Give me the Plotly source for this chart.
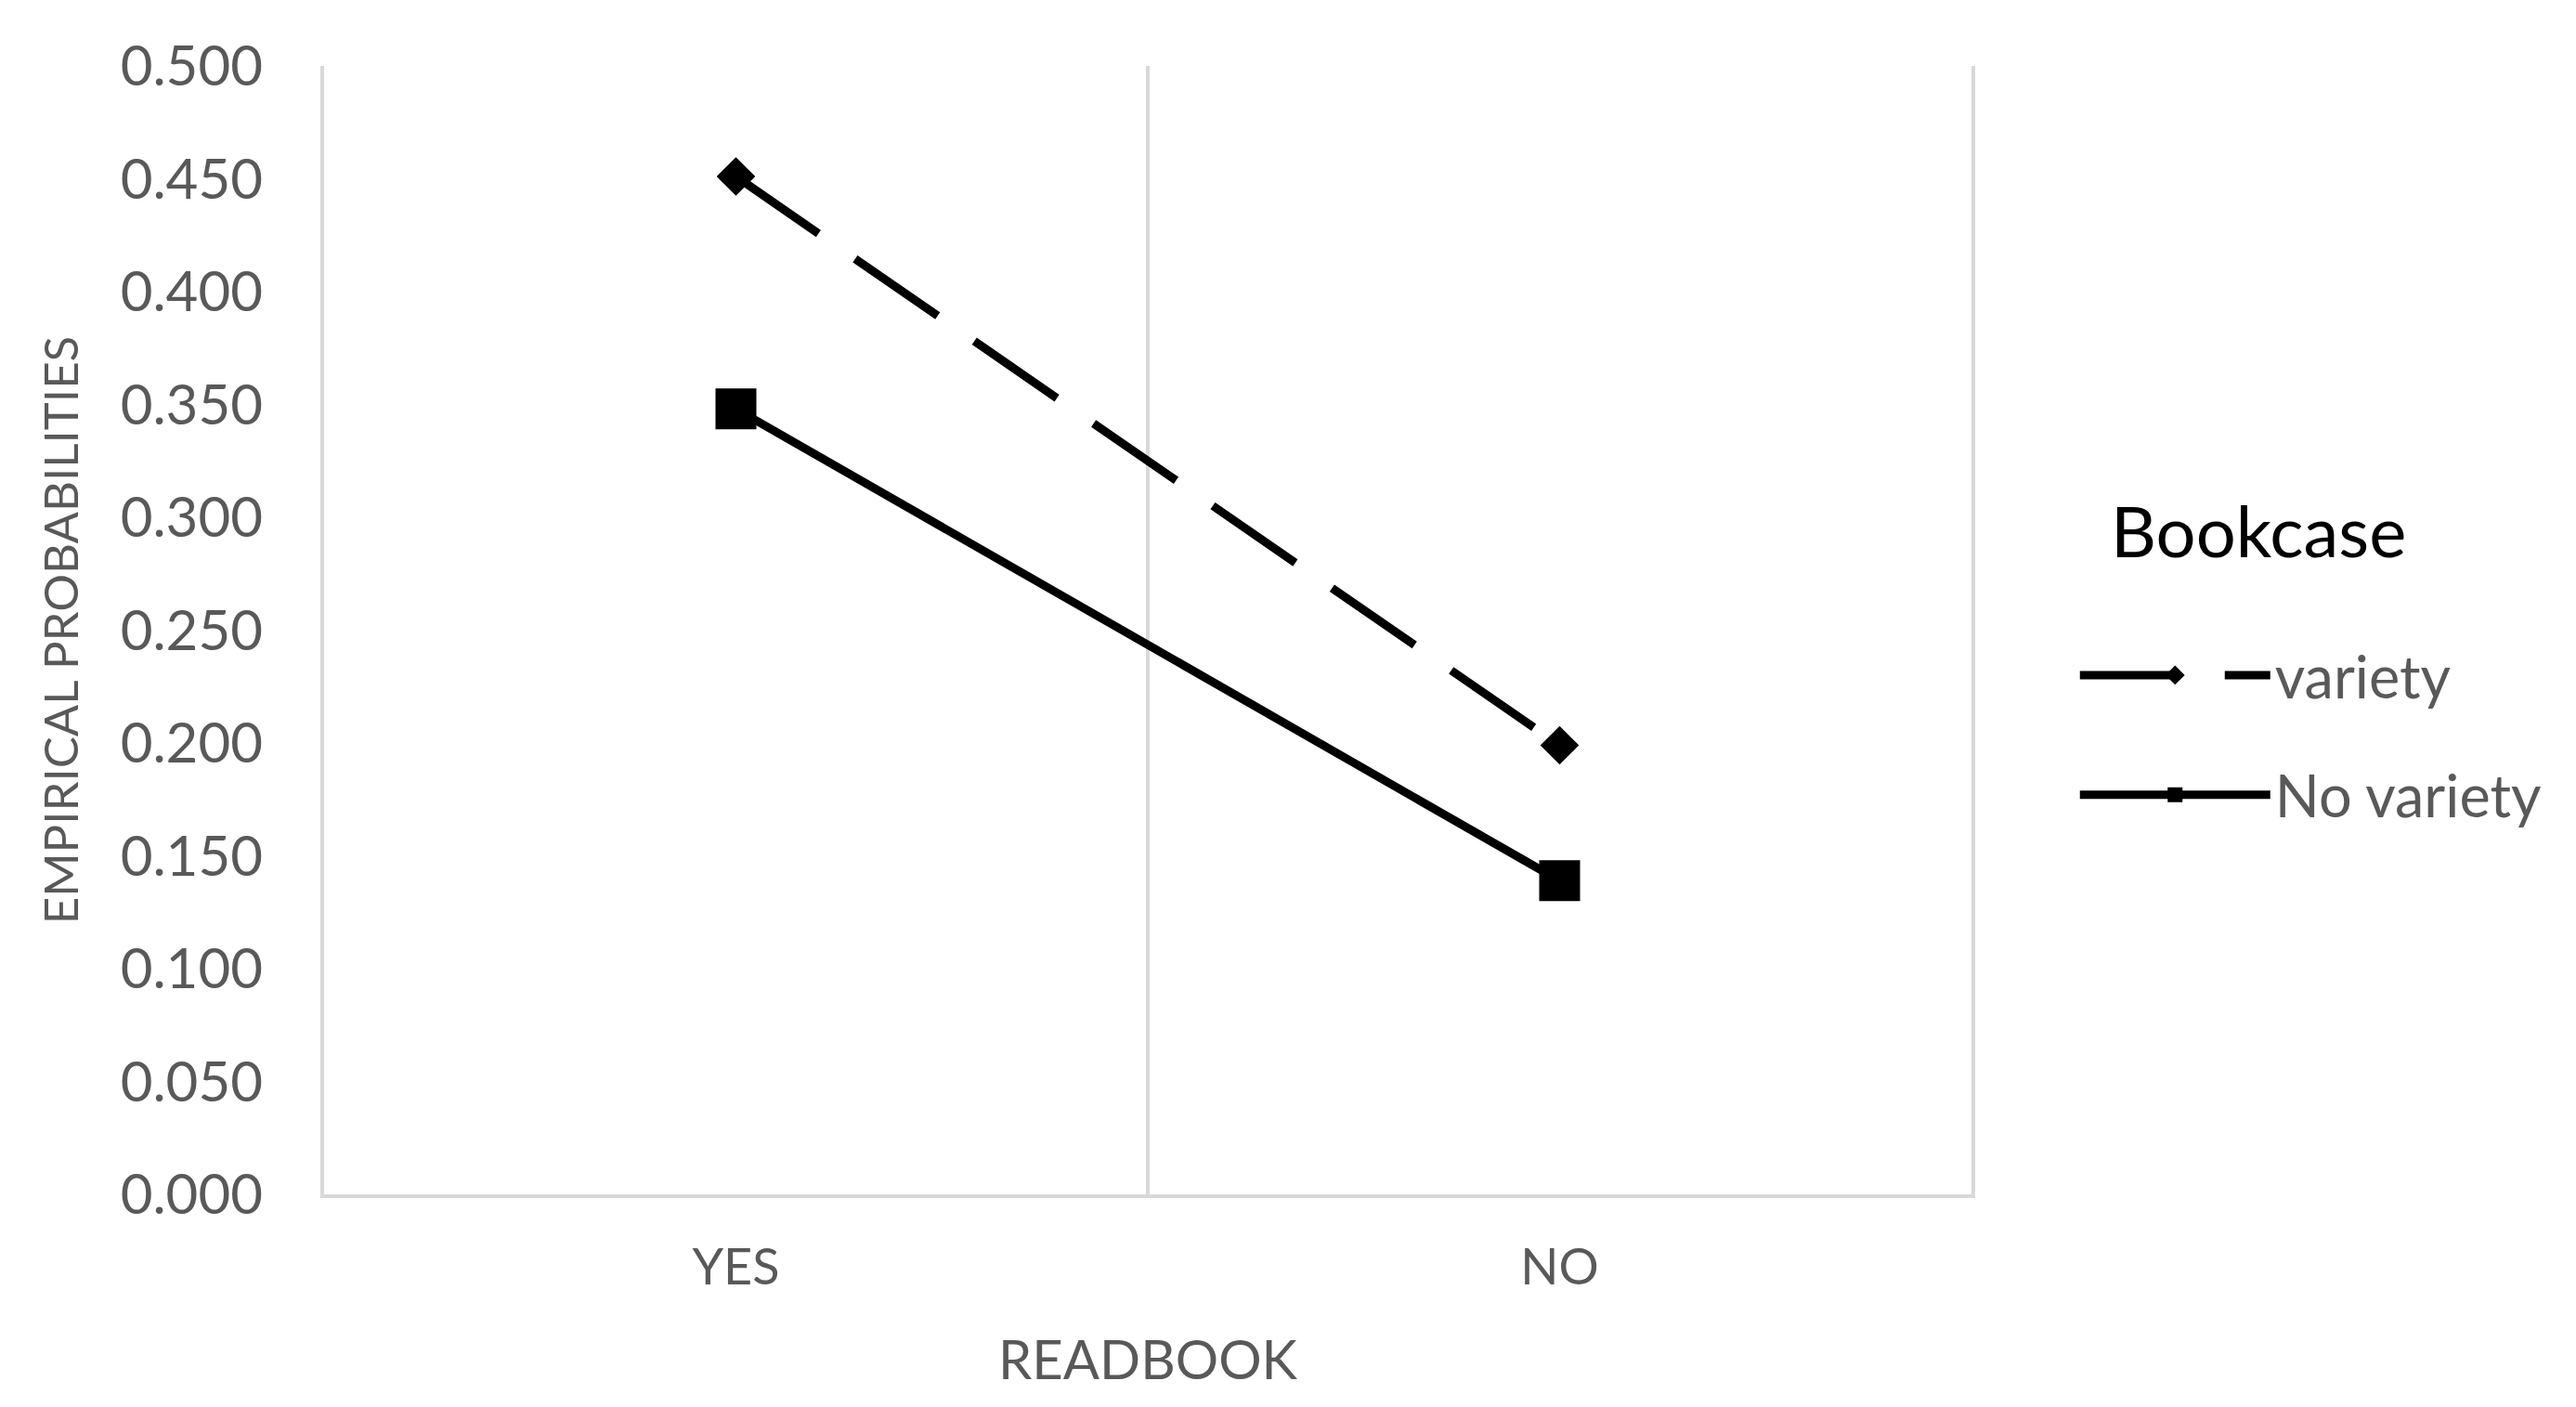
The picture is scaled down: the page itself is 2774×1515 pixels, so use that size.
import plotly.graph_objects as go

categories = ["YES", "NO"]
variety = [0.451, 0.199]
no_variety = [0.348, 0.139]
y_ticks = [0.0, 0.05, 0.1, 0.15, 0.2, 0.25, 0.3, 0.35, 0.4, 0.45, 0.5]

FONT = "Lato, 'Open Sans', sans-serif"
GRID = "#d9d9d9"
TXT = "#595959"

fig = go.Figure()
fig.add_trace(go.Scatter(
    x=categories, y=variety, name="variety", mode="lines+markers",
    legendgroup="a",
    line=dict(color="black", width=9, dash="108px,48px"),
    marker=dict(symbol="diamond", size=32, color="black"),
))
fig.add_trace(go.Scatter(
    x=categories, y=no_variety, name="No variety", mode="lines+markers",
    legendgroup="b",
    line=dict(color="black", width=9),
    marker=dict(symbol="square", size=44, color="black"),
))

fig.update_layout(
    width=2774, height=1515,
    paper_bgcolor="white", plot_bgcolor="white",
    margin=dict(l=341, r=659, t=63, b=237, autoexpand=False),
    font=dict(family=FONT, color=TXT),
    showlegend=True,
    legend=dict(
        x=1.063, xanchor="left", y=0.407, yanchor="middle",
        traceorder="grouped", tracegroupgap=44,
        itemwidth=205,
        font=dict(size=63, color=TXT, family=FONT),
        bgcolor="rgba(0,0,0,0)",
    ),
    annotations=[dict(
        text="Bookcase", xref="paper", yref="paper",
        x=1.0834, xanchor="left", y=0.589, yanchor="middle",
        showarrow=False, font=dict(size=76, color="black", family=FONT),
    )],
)

fig.update_xaxes(
    type="category", categoryorder="array", categoryarray=categories,
    range=[-0.5, 1.5],
    tickson="boundaries", ticks="",
    showgrid=True, gridcolor=GRID, gridwidth=4,
    showline=True, linecolor=GRID, linewidth=4,
    zeroline=False,
    tickfont=dict(size=54, color=TXT, family=FONT),
    ticklabelstandoff=28,
    title=dict(text="READBOOK", font=dict(size=58, color=TXT, family=FONT), standoff=52),
)
fig.update_yaxes(
    range=[0, 0.5], tickvals=y_ticks, tickformat=".3f",
    showgrid=False, zeroline=False,
    showline=True, mirror=True, linecolor=GRID, linewidth=4,
    ticks="",
    tickfont=dict(size=60, color=TXT, family=FONT),
    ticklabelstandoff=50,
    title=dict(text="EMPIRICAL PROBABILITIES", font=dict(size=51, color=TXT, family=FONT), standoff=30),
)

fig.write_html("out.html")
